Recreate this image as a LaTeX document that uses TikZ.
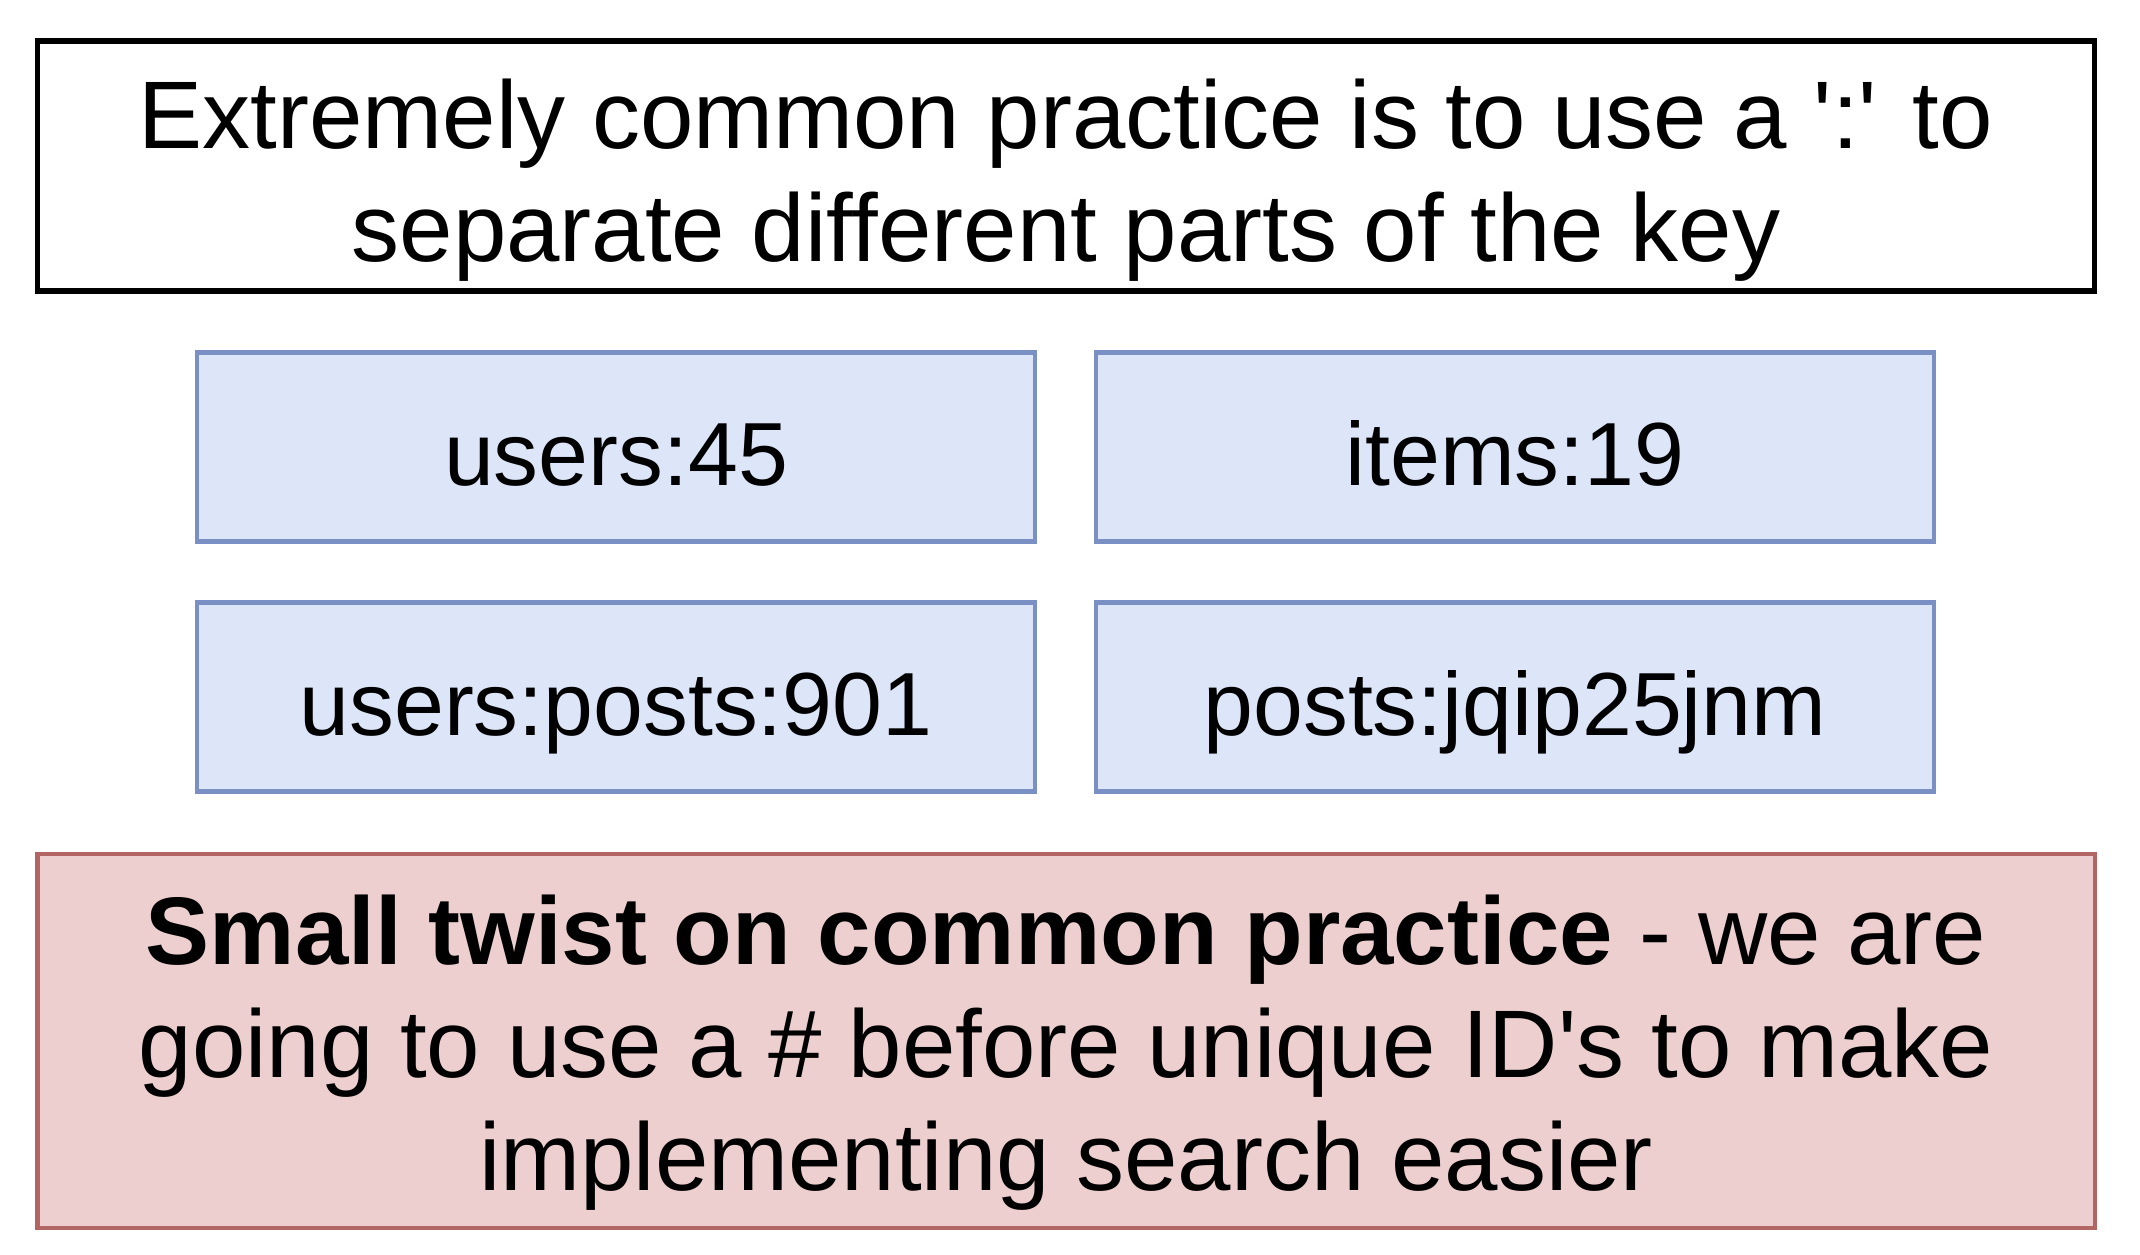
\documentclass[tikz,border=0pt]{standalone}
\usepackage{fontspec}
\setmainfont{Liberation Sans}
\usetikzlibrary{positioning}

\definecolor{keyfill}{RGB}{220,230,248}
\definecolor{keyline}{RGB}{122,144,196}
\definecolor{notefill}{RGB}{236,207,206}
\definecolor{noteline}{RGB}{178,102,100}

\begin{document}
\begin{tikzpicture}[x=0.01cm, y=-0.01cm,
  bigtext/.style={font=\fontsize{27.3}{32.1}\selectfont, align=center, inner sep=0pt},
  titlebox/.style={draw=black, line width=1.5pt, fill=white, minimum width=20.56cm, minimum height=2.5cm},
  keybox/.style={draw=keyline, line width=1.2pt, fill=keyfill, minimum width=8.37cm, minimum height=1.89cm,
    font=\fontsize{25.5}{30}\selectfont, text height=8.2mm, text depth=0.6mm},
  notebox/.style={draw=noteline, line width=1.2pt, fill=notefill, minimum width=20.56cm, minimum height=3.74cm}]
  \useasboundingbox[fill=white] (0,0) rectangle (2140,1254);

  % Heading
  \node[titlebox] (rule) at (1066,166) {};
  \node[bigtext, anchor=base] (ruletext) at (1066,261) {Extremely common practice is to use a \textquotesingle:\textquotesingle{} to\\separate different parts of the key};

  % Example keys
  \node[keybox] (usr) at (616,447) {users:45};
  \node[keybox] (itm) at (1515,447) {items:19};
  \node[keybox] (usrpost) at (616,697) {users:posts:901};
  \node[keybox] (post) at (1515,697) {posts:jqip25jnm};

  % Twist
  \node[notebox] (twist) at (1066,1041) {};
  \node[bigtext, anchor=base] (twisttext) at (1066,1190) {\textbf{Small twist on common practice} - we are\\going to use a \# before unique ID\textquotesingle s to make\\implementing search easier};
\end{tikzpicture}
\end{document}
